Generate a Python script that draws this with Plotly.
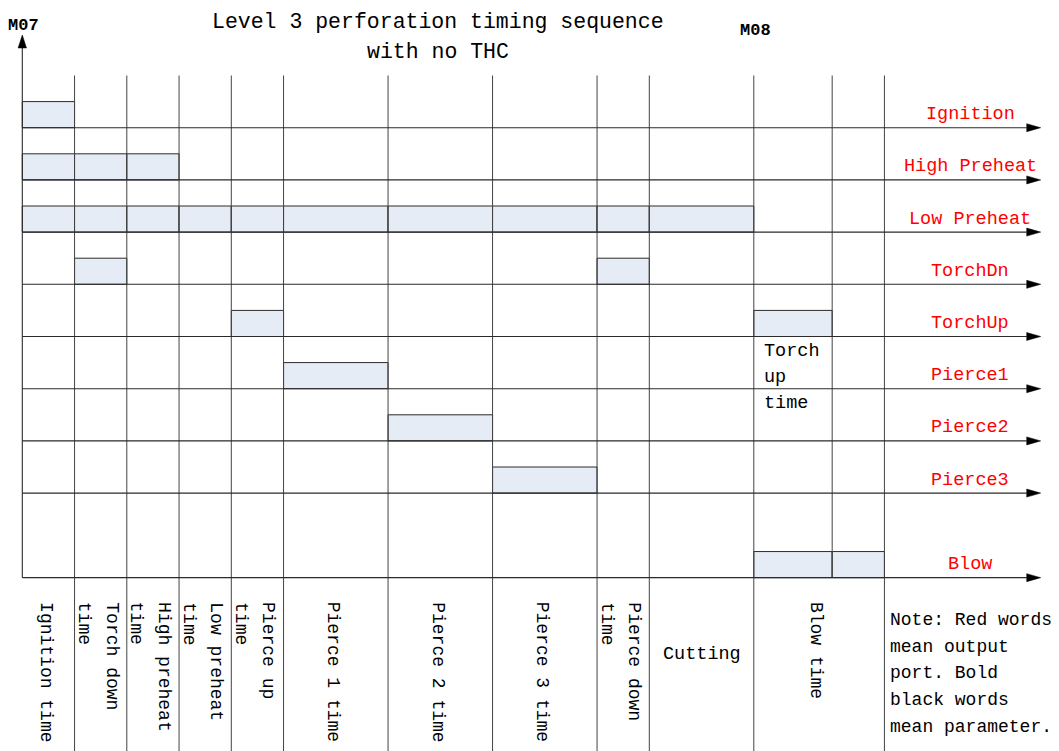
import plotly.graph_objects as go

# ---------------- data ----------------
phases = ["Ignition time", "Torch down time", "High preheat time", "Low preheat time",
          "Pierce up time", "Pierce 1 time", "Pierce 2 time", "Pierce 3 time",
          "Pierce down time", "Cutting", "Torch up time", "Blow end"]
phase_dur = [1, 1, 1, 1, 1, 2, 2, 2, 1, 2, 1.5, 1]

signals = ["Ignition", "High Preheat", "Low Preheat", "TorchDn", "TorchUp",
           "Pierce1", "Pierce2", "Pierce3", "Blow"]
signal_lane = [0, 1, 2, 3, 4, 5, 6, 7, 8.62]
signal_phases = [
    ["Ignition time"],
    ["Ignition time", "Torch down time", "High preheat time"],
    ["Ignition time", "Torch down time", "High preheat time", "Low preheat time",
     "Pierce up time", "Pierce 1 time", "Pierce 2 time", "Pierce 3 time",
     "Pierce down time", "Cutting"],
    ["Torch down time", "Pierce down time"],
    ["Pierce up time", "Torch up time"],
    ["Pierce 1 time"],
    ["Pierce 2 time"],
    ["Pierce 3 time"],
    ["Torch up time", "Blow end"],
]

column_labels = [["Ignition time"], ["Torch down", "time"], ["High preheat", "time"],
                 ["Low preheat", "time"], ["Pierce up", "time"], ["Pierce 1 time"],
                 ["Pierce 2 time"], ["Pierce 3 time"], ["Pierce down", "time"],
                 ["Cutting"], ["Blow time"]]
column_phases = [[0], [1], [2], [3], [4], [5], [6], [7], [8], [9], [10, 11]]
column_rotated = [True] * 9 + [False, True]

torch_up_note = ["Torch", "up", "time"]
note_lines = ["Note: Red words", "mean output", "port. Bold", "black words", "mean parameter."]
title_lines = ["Level 3 perforation timing sequence", "with no THC"]
events = ["M07", "M08"]
event_phase = [0, 10]  # event occurs at start of these phases

# ---------------- layout constants ----------------
PAGE_W, PAGE_H = 1059, 751
OFF = 8                      # default page body margin
W, H = PAGE_W - OFF, PAGE_H - OFF
U = 52.25      # px per time unit
S = 52.2       # px per lane
X0, Y0 = 22.3, 127.7         # page px of time 0 / lane 0
FONT = "Liberation Mono"
LINE = "#2a2a2a"
FILL = "#E6ECF6"


def tx_(px):
    return (px - X0) / U


def ly_(py):
    return (py - Y0) / S


starts = [sum(phase_dur[:i]) for i in range(len(phase_dur))]
ends = [s + d for s, d in zip(starts, phase_dur)]
t_end = ends[-1]
arrow_end = tx_(1040.7)
head_len = 14 / U
head_half = 4 / S
top_lane = -1.0
bottom_lane = ly_(PAGE_H) + 0.5

fig = go.Figure()

# bars (signal high states)
bx, bb, by = [], [], []
for sig, lane, ph in zip(signals, signal_lane, signal_phases):
    for p in ph:
        i = phases.index(p)
        bb.append(starts[i]); bx.append(phase_dur[i]); by.append(lane - 0.25)
fig.add_trace(go.Bar(orientation="h", base=bb, x=bx, y=by, width=0.5,
                     marker=dict(color=FILL, line=dict(color=LINE, width=1)),
                     hoverinfo="skip"))

# vertical grid lines at phase boundaries
gx, gy = [], []
blow_lane = signal_lane[-1]
for i, e in enumerate(ends):
    bottom = blow_lane if phases[i] == "Torch up time" else bottom_lane
    gx += [e, e, None]; gy += [top_lane, bottom, None]
fig.add_trace(go.Scatter(x=gx, y=gy, mode="lines", line=dict(color="#444", width=1),
                         hoverinfo="skip"))

# horizontal time axes per signal
hx, hy, ax_, ay_ = [], [], [], []
for lane in signal_lane:
    hx += [0, arrow_end - head_len, None]; hy += [lane, lane, None]
    ax_ += [arrow_end - head_len, arrow_end, arrow_end - head_len, arrow_end - head_len, None]
    ay_ += [lane - head_half, lane, lane + head_half, lane - head_half, None]
# vertical axis
tip = ly_(35)
vhead = 13 / S
vhalf = 4.2 / U
hx += [0, 0, None]; hy += [blow_lane, tip + vhead, None]
ax_ += [-vhalf, 0, vhalf, -vhalf, None]
ay_ += [tip + vhead, tip, tip + vhead, tip + vhead, None]
fig.add_trace(go.Scatter(x=hx, y=hy, mode="lines", line=dict(color=LINE, width=1.1),
                         hoverinfo="skip"))
fig.add_trace(go.Scatter(x=ax_, y=ay_, mode="lines", fill="toself", fillcolor="black",
                         line=dict(color="black", width=0.5), hoverinfo="skip"))

ann = []
# red signal labels
for sig, lane in zip(signals, signal_lane):
    ann.append(dict(x=tx_(970), y=lane - 0.25, text=sig, showarrow=False,
                    xanchor="center", yanchor="middle",
                    font=dict(family=FONT, size=18.5, color="#FF0000")))

# bottom phase labels
label_top = ly_(600)
line_off = 27 / U
for lines, cols, rot in zip(column_labels, column_phases, column_rotated):
    c0 = starts[cols[0]]; c1 = ends[cols[-1]]
    cx = (c0 + c1) / 2
    if rot:
        n = len(lines)
        cxr = cx - 2.5 / U
        for i, t in enumerate(lines):
            ann.append(dict(x=cxr + ((n - 1) / 2 - i) * line_off, y=label_top, text=t,
                            textangle=90, showarrow=False, xanchor="center", yanchor="top",
                            font=dict(family=FONT, size=18, color="black")))
    else:
        ann.append(dict(x=cx, y=ly_(654), text=lines[0], showarrow=False,
                        xanchor="center", yanchor="middle",
                        font=dict(family=FONT, size=18.5, color="black")))

# torch up time note
tu = phases.index("Torch up time")
for i, t in enumerate(torch_up_note):
    ann.append(dict(x=starts[tu] + 8 / U, y=signal_lane[4] + 0.28 + 0.5 * i, text=t,
                    showarrow=False, xanchor="left", yanchor="middle",
                    font=dict(family=FONT, size=18.5, color="black")))

# note
for i, t in enumerate(note_lines):
    ann.append(dict(x=t_end + 4 / U, y=ly_(620) + i * 26.7 / S, text=t,
                    showarrow=False, xanchor="left", yanchor="middle",
                    font=dict(family=FONT, size=18, color="black")))

# title
for i, t in enumerate(title_lines):
    ann.append(dict(x=tx_(437.5), y=ly_(22 + 30 * i), text=t, showarrow=False,
                    xanchor="center", yanchor="middle",
                    font=dict(family=FONT, size=21.5, color="black")))

# events
ev_y = [ly_(25), ly_(30)]
for ev, p, yy in zip(events, event_phase, ev_y):
    ann.append(dict(x=starts[p] + 1.5 / U, y=yy, text="<b>" + ev + "</b>", showarrow=False,
                    xanchor="center", yanchor="middle",
                    font=dict(family=FONT, size=17, color="black")))

fig.update_layout(
    width=W, height=H, margin=dict(l=0, r=0, t=0, b=0),
    paper_bgcolor="white", plot_bgcolor="white", showlegend=False,
    barmode="overlay", annotations=ann,
    xaxis=dict(range=[tx_(OFF), tx_(PAGE_W)], visible=False, fixedrange=True),
    yaxis=dict(range=[ly_(PAGE_H), ly_(OFF)], visible=False, fixedrange=True),
)

fig.write_html("out.html")
